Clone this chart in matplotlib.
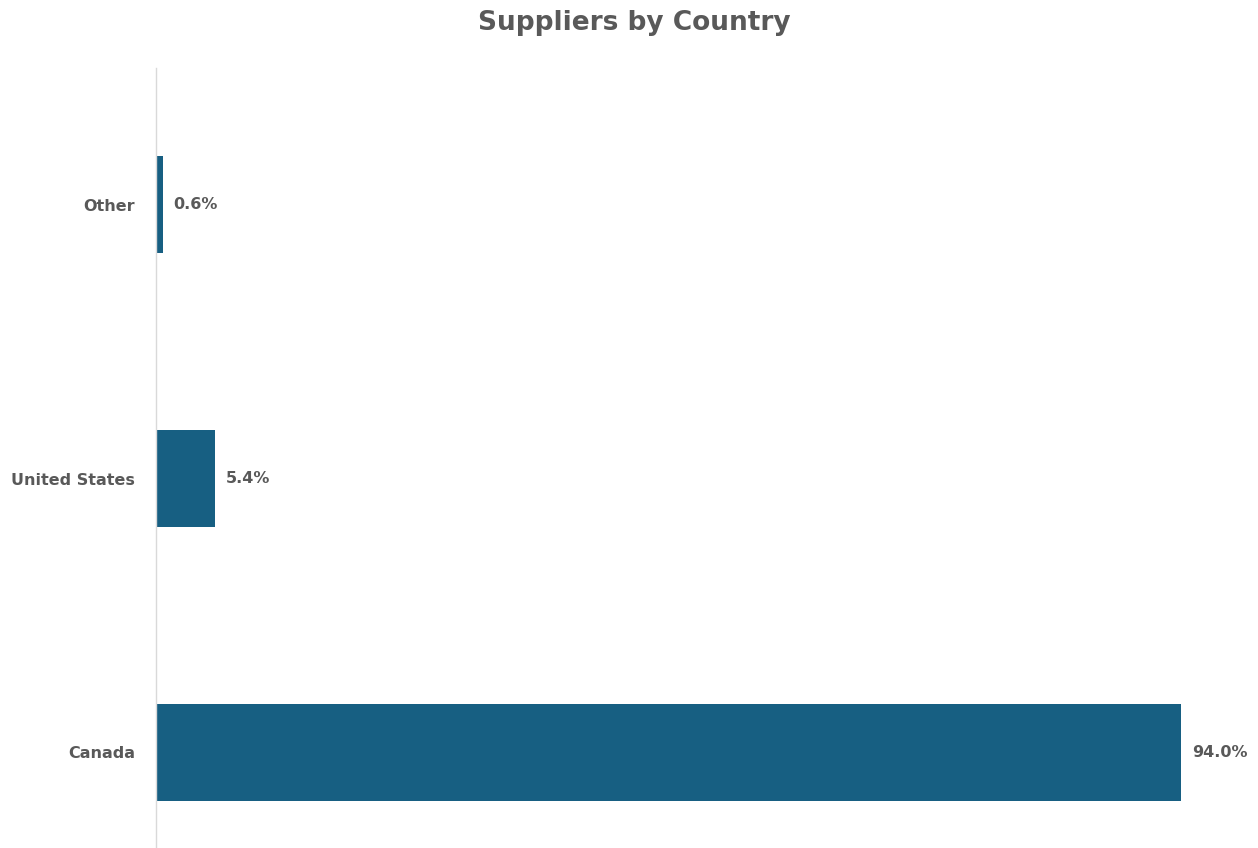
import matplotlib.pyplot as plt

countries = ["Canada", "United States", "Other"]
shares = [94.0, 5.4, 0.6]
labels = ["94.0%", "5.4%", "0.6%"]

bar_color = "#175F82"
text_color = "#595959"

plt.rcParams["font.family"] = ["DejaVu Sans"]

fig = plt.figure(figsize=(12.58, 8.48), dpi=100)
ax = fig.add_axes([156 / 1258, 0, 1025 / 1258, 780 / 848])

ypos = range(len(countries))
bars = ax.barh(ypos, shares, height=0.354, color=bar_color)

for b, lab in zip(bars, labels):
    ax.annotate(lab, (b.get_width(), b.get_y() + b.get_height() / 2),
                xytext=(8, 0), textcoords="offset points", va="center", ha="left",
                fontsize=11.5, fontweight="bold", color=text_color, clip_on=False)

ax.set_xlim(0, 94)
ax.set_ylim(-0.35, 2.5)
ax.set_yticks(list(ypos))
ax.set_yticklabels(countries, fontsize=11.5, fontweight="bold", color=text_color)
ax.tick_params(axis="y", length=0, pad=15)
ax.set_xticks([])

for s in ["top", "right", "bottom"]:
    ax.spines[s].set_visible(False)
ax.spines["left"].set_color("#D9D9D9")
ax.spines["left"].set_linewidth(1)

fig.text(634 / 1258, 1 - 23 / 848, "Suppliers by Country", ha="center", va="center",
         fontsize=19, fontweight="bold", color=text_color)

fig.savefig("out.png", dpi=100)
